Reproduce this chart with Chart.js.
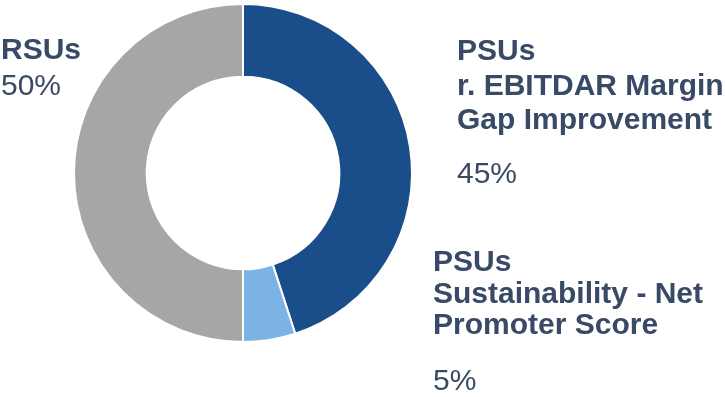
<!DOCTYPE html>
<html>
<head>
<meta charset="utf-8">
<script src="https://cdn.jsdelivr.net/npm/chart.js@4.4.1/dist/chart.umd.min.js"></script>
<style>
    html, body { margin: 0; padding: 0; background: #fff; }
    #wrap { width: 725px; height: 397px; position: relative; }
</style>
</head>
<body>
<div id="wrap"><canvas id="grafico"></canvas></div>
<script>
// Datos
const categorias = ['PSUs r. EBITDAR Margin Gap Improvement', 'PSUs Sustainability - Net Promoter Score', 'RSUs'];
const valores = [45, 5, 50];
const lineasEtiqueta = [
    ['PSUs', 'r. EBITDAR Margin', 'Gap Improvement'],
    ['PSUs', 'Sustainability - Net', 'Promoter Score'],
    ['RSUs']
];
const colores = ['#1a4e8a', '#7bb4e4', '#a6a6a6'];

const colorTexto = '#394a66';
// posicion de cada bloque: x, baseline de la primera linea, interlineado, baseline del %
const posEtiquetas = [
    { x: 457, y: 60, paso: 34.5, yPct: 183 },
    { x: 433, y: 271, paso: 31.5, yPct: 390 },
    { x: 1, y: 59, paso: 34, yPct: 95 }
];

const pluginEtiquetas = {
    id: 'etiquetas',
    afterDraw(chart) {
        const ctx = chart.ctx;
        ctx.save();
        ctx.fillStyle = colorTexto;
        ctx.textAlign = 'left';
        ctx.textBaseline = 'alphabetic';
        lineasEtiqueta.forEach((lineas, i) => {
            const p = posEtiquetas[i];
            ctx.font = 'bold 30px "Liberation Sans", Arial, sans-serif';
            lineas.forEach((l, j) => ctx.fillText(l, p.x, p.y + j * p.paso));
            ctx.font = '30px "Liberation Sans", Arial, sans-serif';
            ctx.fillText(valores[i] + '%', p.x, p.yPct);
        });
        ctx.restore();
    }
};

new Chart(document.getElementById('grafico'), {
    type: 'doughnut',
    data: {
        labels: categorias,
        datasets: [{
            data: valores,
            backgroundColor: colores,
            borderColor: '#ffffff',
            borderWidth: 2
        }]
    },
    options: {
        responsive: true,
        maintainAspectRatio: false,
        animation: false,
        cutout: '57%',
        layout: { padding: { left: 73, right: 312, top: 3, bottom: 54 } },
        plugins: {
            legend: { display: false },
            tooltip: { enabled: false }
        }
    },
    plugins: [pluginEtiquetas]
});
</script>
</body>
</html>
